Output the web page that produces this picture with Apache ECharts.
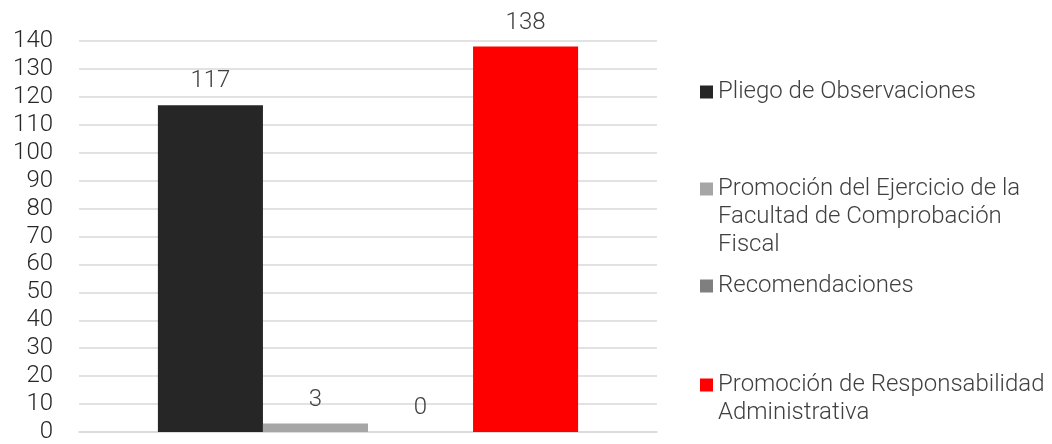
<!DOCTYPE html>
<html>
<head>
<meta charset="utf-8">
<script src="https://cdn.jsdelivr.net/npm/echarts@6/dist/echarts.min.js"></script>
<style>html,body{margin:0;padding:0;background:#fff;}#c{width:1052px;height:444px;}</style>
</head>
<body>
<div id="c"></div>
<script>
var categories = [''];
var seriesNames = ['Pliego de Observaciones', 'Promoción del Ejercicio de la Facultad de Comprobación Fiscal', 'Recomendaciones', 'Promoción de Responsabilidad Administrativa'];
var legendLabels = ['Pliego de Observaciones', 'Promoción del Ejercicio de la\nFacultad de Comprobación\nFiscal', 'Recomendaciones', 'Promoción de Responsabilidad\nAdministrativa'];
var pliego = [117];
var promocionEjercicio = [3];
var recomendaciones = [0];
var promocionResp = [138];
var seriesValues = [pliego, promocionEjercicio, recomendaciones, promocionResp];
var colors = ['#262626', '#A6A6A6', '#7F7F7F', '#FF0000'];
var yTicks = {min: 0, max: 140, interval: 10};

var FONT = 'Roboto';
var firstLineCenters = [90, 187, 284, 383];
var LH = 28;

var chart = echarts.init(document.getElementById('c'));
var series = seriesNames.map(function (n, i) {
  return {
    name: n, type: 'bar', data: seriesValues[i],
    barGap: 0, barCategoryGap: '27.3%',
    itemStyle: {color: colors[i]},
    label: {show: true, position: 'top', distance: 12, color: '#404040', fontFamily: FONT, fontWeight: 300, fontSize: 24}
  };
});
var legends = seriesNames.map(function (n, i) {
  var lines = legendLabels[i].split('\n').length;
  var pre = new Array(lines).join('\n');
  return {
    orient: 'vertical', left: 700, top: firstLineCenters[i] - (2 * lines - 1) * LH / 2 + 2,
    padding: 0,
    data: [n], icon: 'rect', itemWidth: 13, itemHeight: 13,
    formatter: function () { return pre + legendLabels[i]; },
    selectedMode: false,
    textStyle: {color: '#404040', fontFamily: FONT, fontWeight: 300, fontSize: 24, lineHeight: LH}
  };
});
chart.setOption({
  animation: false,
  color: colors,
  grid: {left: 79, right: 395, top: 41, bottom: 11},
  xAxis: {type: 'category', data: categories, axisTick: {show: false}, axisLabel: {show: false},
    axisLine: {lineStyle: {color: '#d9d9d9', width: 1.5}}},
  yAxis: {type: 'value', min: yTicks.min, max: yTicks.max, interval: yTicks.interval,
    axisLine: {show: false}, axisTick: {show: false},
    axisLabel: {margin: 26, color: '#262626', fontFamily: FONT, fontWeight: 300, fontSize: 24},
    splitLine: {lineStyle: {color: '#d9d9d9', width: 1.5}}},
  legend: legends,
  series: series
});
</script>
</body>
</html>
